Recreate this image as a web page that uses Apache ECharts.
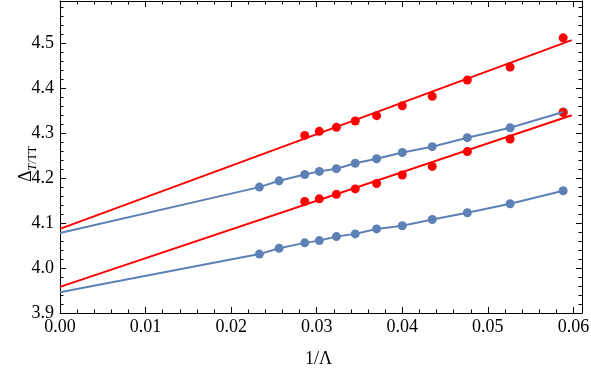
<!DOCTYPE html>
<html>
<head>
<meta charset="utf-8">
<script src="https://cdn.jsdelivr.net/npm/echarts@6/dist/echarts.min.js"></script>
<style>html,body{margin:0;padding:0;background:#fff}#c{width:591px;height:372px}</style>
</head>
<body>
<div id="c"></div>
<script>
// 1/Lambda values
var xBlue = [0.0233, 0.0256, 0.0286, 0.0303, 0.0323, 0.0345, 0.0370, 0.0400, 0.0435, 0.0476, 0.0526, 0.0588];
var xRed = [0.0286, 0.0303, 0.0323, 0.0345, 0.0370, 0.0400, 0.0435, 0.0476, 0.0526, 0.0588];
var blueUpper = [4.180, 4.194, 4.208, 4.215, 4.221, 4.233, 4.243, 4.257, 4.270, 4.290, 4.312, 4.347];
var blueLower = [4.031, 4.044, 4.056, 4.061, 4.070, 4.076, 4.087, 4.094, 4.108, 4.123, 4.143, 4.172];
var redUpper = [4.295, 4.304, 4.313, 4.327, 4.339, 4.361, 4.382, 4.418, 4.447, 4.512];
var redLower = [4.148, 4.154, 4.164, 4.176, 4.188, 4.207, 4.226, 4.259, 4.287, 4.346];
// extrapolation intercepts at 1/Lambda = 0
var blueUpperIntercept = 4.078;
var blueLowerIntercept = 3.946;
// straight red fit lines: [x, y] endpoints
var redUpperFit = [[0, 4.087], [0.0598, 4.507]];
var redLowerFit = [[0, 3.958], [0.0598, 4.340]];
var xTitle = '1/\u039B';
var yTitle = '{d|\u0394}{t|T}{s|/TT}';

var RED = '#ff0000', BLUE = '#5e81b5', FRAME = '#000';
var XMIN = 0, XMAX = 0.061, YMIN = 3.9, YMAX = 4.594;
function pts(xs, ys) { return xs.map(function (x, i) { return [x, ys[i]]; }); }
function fitThrough(x0y, xs, ys) { return [[0, x0y]].concat(pts(xs, ys)); }

var FONT = 'Liberation Serif';
function xAx(pos, major, withLabel) {
  return {
    gridIndex: 1, type: 'value', position: pos, min: XMIN, max: XMAX, interval: major ? 0.01 : 0.002,
    axisLine: { show: major, onZero: false, lineStyle: { color: FRAME, width: 1 } },
    axisTick: { show: true, inside: true, length: major ? 6 : 3.5, lineStyle: { color: FRAME, width: 1 } },
    axisLabel: { show: withLabel, showMaxLabel: false, margin: 5, color: '#000', fontFamily: FONT, fontSize: 18,
      formatter: function (v) { return v.toFixed(2); } },
    splitLine: { show: false }
  };
}
function yAx(pos, major, withLabel) {
  return {
    gridIndex: 1, type: 'value', position: pos, min: YMIN, max: YMAX, interval: major ? 0.1 : 0.02,
    axisLine: { show: major, onZero: false, lineStyle: { color: FRAME, width: 1 } },
    axisTick: { show: true, inside: true, length: major ? 6 : 3.5, lineStyle: { color: FRAME, width: 1 } },
    axisLabel: { show: withLabel, showMaxLabel: false, margin: 6, color: '#000', fontFamily: FONT, fontSize: 18,
      formatter: function (v) { return v.toFixed(1); } },
    splitLine: { show: false }
  };
}
var GRID = { left: 60, right: 9, top: 1, bottom: 59, containLabel: false, outerBoundsMode: 'none' };

var chart = echarts.init(document.getElementById('c'));
chart.setOption({
  animation: false,
  grid: [Object.assign({}, GRID), Object.assign({}, GRID)],
  xAxis: [
    { gridIndex: 0, type: 'value', min: XMIN, max: XMAX, show: false },
    xAx('bottom', true, true), xAx('top', true, false), xAx('bottom', false, false), xAx('top', false, false)
  ],
  yAxis: [
    { gridIndex: 0, type: 'value', min: YMIN, max: YMAX, show: false },
    yAx('left', true, true), yAx('right', true, false), yAx('left', false, false), yAx('right', false, false)
  ],
  graphic: [
    { type: 'text', left: 305, top: 350, silent: true,
      style: { text: xTitle, fill: '#000', font: '18px "Liberation Serif"' } },
    { type: 'text', x: 24, y: 164, rotation: Math.PI / 2, silent: true,
      style: {
        text: yTitle, fill: '#000', align: 'center', verticalAlign: 'middle', font: '18px "Liberation Serif"',
        rich: {
          d: { fontFamily: FONT, fontSize: 18, fill: '#000', verticalAlign: 'bottom', lineHeight: 22 },
          t: { fontFamily: FONT, fontSize: 12, fontStyle: 'italic', fill: '#000', verticalAlign: 'bottom', lineHeight: 16, padding: [0, 0, -4, 0] },
          s: { fontFamily: FONT, fontSize: 12, fill: '#000', verticalAlign: 'bottom', lineHeight: 16, padding: [0, 0, -4, 0] }
        }
      } }
  ],
  series: [
    { type: 'line', xAxisIndex: 0, yAxisIndex: 0, data: fitThrough(blueUpperIntercept, xBlue, blueUpper), symbol: 'none',
      lineStyle: { color: BLUE, width: 2 } },
    { type: 'line', xAxisIndex: 0, yAxisIndex: 0, data: fitThrough(blueLowerIntercept, xBlue, blueLower), symbol: 'none',
      lineStyle: { color: BLUE, width: 2 } },
    { type: 'line', xAxisIndex: 0, yAxisIndex: 0, data: redUpperFit, symbol: 'none', lineStyle: { color: RED, width: 2 } },
    { type: 'line', xAxisIndex: 0, yAxisIndex: 0, data: redLowerFit, symbol: 'none', lineStyle: { color: RED, width: 2 } },
    { type: 'scatter', xAxisIndex: 0, yAxisIndex: 0, data: pts(xBlue, blueUpper), symbolSize: 9, itemStyle: { color: BLUE, opacity: 1 } },
    { type: 'scatter', xAxisIndex: 0, yAxisIndex: 0, data: pts(xBlue, blueLower), symbolSize: 9, itemStyle: { color: BLUE, opacity: 1 } },
    { type: 'scatter', xAxisIndex: 0, yAxisIndex: 0, data: pts(xRed, redUpper), symbolSize: 9, itemStyle: { color: RED, opacity: 1 } },
    { type: 'scatter', xAxisIndex: 0, yAxisIndex: 0, data: pts(xRed, redLower), symbolSize: 9, itemStyle: { color: RED, opacity: 1 } }
  ]
});
</script>
</body>
</html>
